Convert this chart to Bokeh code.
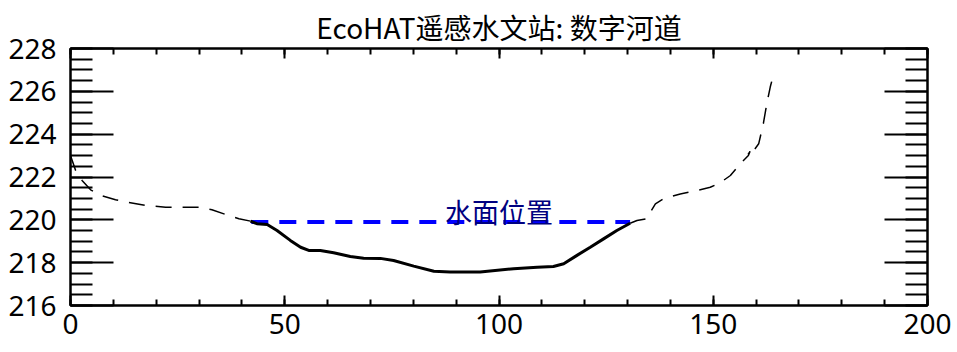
from bokeh.plotting import figure
from bokeh.models import Range1d, FixedTicker, LinearAxis, Title, CustomJSTickFormatter
from bokeh.core.properties import value
from bokeh.embed import file_html
from bokeh.resources import INLINE

# ---- data ----
left_bank_x = [0, 1.2, 2.7, 4.7, 7.0, 10.5, 13.2, 17.5, 22.2, 29.9, 33.0, 36.2, 39.3, 42.0]
left_bank_y = [223.0, 222.3, 221.84, 221.4, 221.14, 220.94, 220.83, 220.67, 220.59, 220.59,
               220.47, 220.25, 220.05, 219.94]

bed_x = [42.0, 43.5, 45.9, 48.2, 51.3, 53.7, 55.6, 58.3, 61.4, 65.3, 68.4, 72.3, 75.4, 80.1,
         84.8, 88.6, 95.6, 103.4, 108.9, 112.7, 115.1, 118.2, 121.3, 124.4, 127.5, 130.6]
bed_y = [219.94, 219.82, 219.78, 219.5, 219.04, 218.72, 218.57, 218.57, 218.46, 218.29, 218.21,
         218.2, 218.1, 217.84, 217.6, 217.56, 217.56, 217.72, 217.79, 217.82, 217.95, 218.34,
         218.72, 219.11, 219.5, 219.84]

right_bank_x = [130.6, 132.2, 134.5, 135.1, 136.5, 138.4, 142.3, 146.2, 149.3, 151.6, 154.0,
                156.3, 158.2, 158.6, 158.1, 158.8, 159.5, 160.6, 161.7, 162.5, 163.3, 164.1]
right_bank_y = [219.84, 219.97, 220.05, 220.28, 220.75, 220.98, 221.21, 221.37, 221.52, 221.73,
                222.07, 222.62, 223.0, 223.2, 223.05, 223.0, 223.25, 223.55, 224.5, 225.42,
                226.2, 226.82]

water_x = [42.2, 130.6]
water_level = 219.9
water_label = "水面位置"
water_label_x = 100
water_label_y = 220.4

x_major = [0, 50, 100, 150, 200]
x_minor = list(range(0, 201, 10))
y_major = [216, 218, 220, 222, 224, 226, 228]
y_minor = [216 + 0.5 * i for i in range(25)]

title_text = "EcoHAT遥感水文站: 数字河道"

TICK_FONT = "Noto Sans"
CJK_FONT = "Noto Sans CJK SC"

p = figure(width=957, height=352, output_backend="svg", toolbar_location=None,
           x_range=Range1d(0, 200), y_range=Range1d(216, 228),
           x_axis_location=None, y_axis_location=None,
           min_border_left=70, min_border_right=30, min_border_top=48, min_border_bottom=47)
p.xgrid.visible = False
p.ygrid.visible = False
p.outline_line_color = "black"
p.outline_line_width = 2

p.title = Title(text=title_text, align="center", text_font=CJK_FONT,
                text_font_size="28px", text_font_style="normal", text_color="black",
                standoff=4)

blank = CustomJSTickFormatter(code="return '';")


def style_axis(ax, major_in, minor_in, labels):
    ax.axis_line_width = 2
    ax.major_tick_line_width = 2
    ax.minor_tick_line_width = 2
    ax.major_tick_in = major_in
    ax.major_tick_out = 0
    ax.minor_tick_in = minor_in
    ax.minor_tick_out = 0
    ax.major_label_text_font = TICK_FONT
    ax.major_label_text_font_size = "28px"
    ax.major_label_text_color = "black"
    if not labels:
        ax.formatter = blank
        ax.major_label_standoff = 0


xb = LinearAxis(ticker=FixedTicker(ticks=x_major, minor_ticks=x_minor))
style_axis(xb, 10, 6, True)
xb.major_label_standoff = 8
xt = LinearAxis(ticker=FixedTicker(ticks=x_major, minor_ticks=x_minor))
style_axis(xt, 10, 6, False)
yl = LinearAxis(ticker=FixedTicker(ticks=y_major, minor_ticks=y_minor))
style_axis(yl, 43, 22, True)
yl.major_label_standoff = 14
yr = LinearAxis(ticker=FixedTicker(ticks=y_major, minor_ticks=y_minor))
style_axis(yr, 43, 22, False)

p.add_layout(xb, "below")
p.add_layout(xt, "above")
p.add_layout(yl, "left")
p.add_layout(yr, "right")

p.line(left_bank_x, left_bank_y, line_color="black", line_width=1.5, line_dash="16 11")
p.line(right_bank_x, right_bank_y, line_color="black", line_width=1.5, line_dash="16 11")
p.line(water_x, [water_level, water_level], line_color="#0000ff", line_width=4, line_dash="17 11")
p.line(bed_x, bed_y, line_color="black", line_width=3)
p.text(x=[water_label_x], y=[water_label_y], text=[water_label], text_align="center",
       text_baseline="middle", text_font=value(CJK_FONT), text_font_size="27px",
       text_color="#000080")

open("out.html", "w").write(file_html(p, INLINE))
